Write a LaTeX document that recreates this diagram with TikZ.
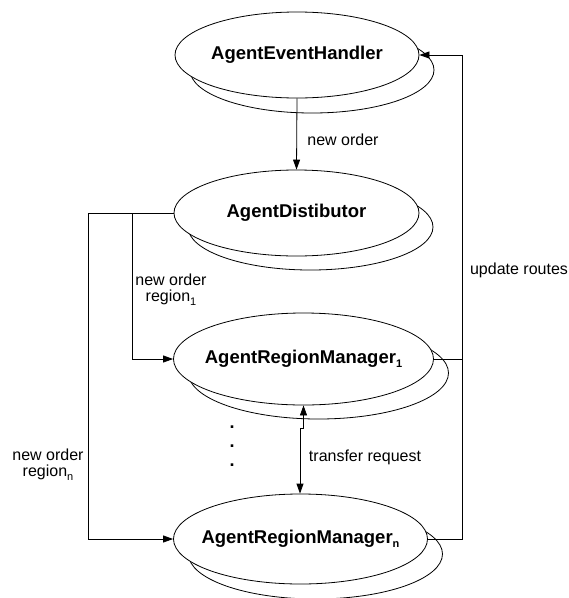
\documentclass[tikz,border=0pt]{standalone}
\usepackage{fontspec}
\setmainfont{Liberation Sans}
\usetikzlibrary{shapes.geometric,arrows.meta}
\newcommand{\lowsub}[1]{\raisebox{-0.45ex}{\fontsize{11}{11}\selectfont #1}}
\begin{document}
\begin{tikzpicture}[x=1pt,y=-1pt,
  ell/.style={ellipse,draw,fill=white,line width=0.8pt,inner sep=0pt},
  big/.style={font=\fontsize{18.5}{20}\selectfont\bfseries,inner sep=0pt},
  lbl/.style={font=\fontsize{16}{16}\selectfont,align=center,inner sep=0pt},
  conn/.style={line width=0.8pt},
  arr/.style={conn,-{Triangle[length=10pt,width=7pt]}},
  darr/.style={conn,{Triangle[length=10pt,width=7pt]}-{Triangle[length=10pt,width=7pt]}}]
\useasboundingbox (0,0) rectangle (569,598);
% back ellipses
\node[ell,minimum width=244,minimum height=86] (EHb) at (312,70) {};
\node[ell,minimum width=245,minimum height=86] (ADb) at (310.5,227) {};
\node[ell,minimum width=260,minimum height=92] (RM1b) at (318.5,373) {};
\node[ell,minimum width=254,minimum height=90] (RMnb) at (315.5,554) {};
% front ellipses
\node[ell,minimum width=244,minimum height=86] (EH) at (297,55) {};
\node[ell,minimum width=245,minimum height=86] (AD) at (296.5,213) {};
\node[ell,minimum width=260,minimum height=92] (RM1) at (303.5,359) {};
\node[ell,minimum width=254,minimum height=90] (RMn) at (300.5,539) {};
% texts
\node[big] (EHt) at (EH) {AgentEventHandler};
\node[big] (ADt) at (AD) {AgentDistibutor};
\node[big] (RM1t) at (RM1) {AgentRegionManager\lowsub{1}};
\node[big] (RMnt) at (RMn) {AgentRegionManager\lowsub{n}};
% corner coordinates
\coordinate (c1) at (88,213);
\coordinate (c2) at (88,539);
\coordinate (c3) at (132,213);
\coordinate (c4) at (132,359);
\coordinate (r1) at (462,359);
\coordinate (r2) at (462,539);
\coordinate (r3) at (462,55);
\coordinate (j1) at (303.5,428);
\coordinate (j2) at (300,428);
% connectors
\draw[arr] (EH.south) -- (AD.north);
\draw[arr] (AD.west) -- (c1) -- (c2) -- (RMn.west);
\draw[arr] (c3) -- (c4) -- (RM1.west);
\draw[conn] (RM1.east) -- (r1);
\draw[arr] (RMn.east) -- (r2) -- (r3) -- (EH.east);
\draw[darr] (RM1.south) -- (j1) -- (j2) -- (j2 |- RMn.north);
% dots
\node[lbl,font=\fontsize{18}{18}\selectfont\bfseries] (dots) at (232,446) {.\\[1pt].\\[1pt].};
% labels
\node[lbl] (l1) at (343,140) {new order};
\node[lbl] (l2) at (171,290) {new order\\region\lowsub{1}};
\node[lbl] (l3) at (48,465) {new order\\region\lowsub{n}};
\node[lbl] (l4) at (365,457) {transfer request};
\node[lbl] (l5) at (519,270) {update routes};
\end{tikzpicture}
\end{document}
